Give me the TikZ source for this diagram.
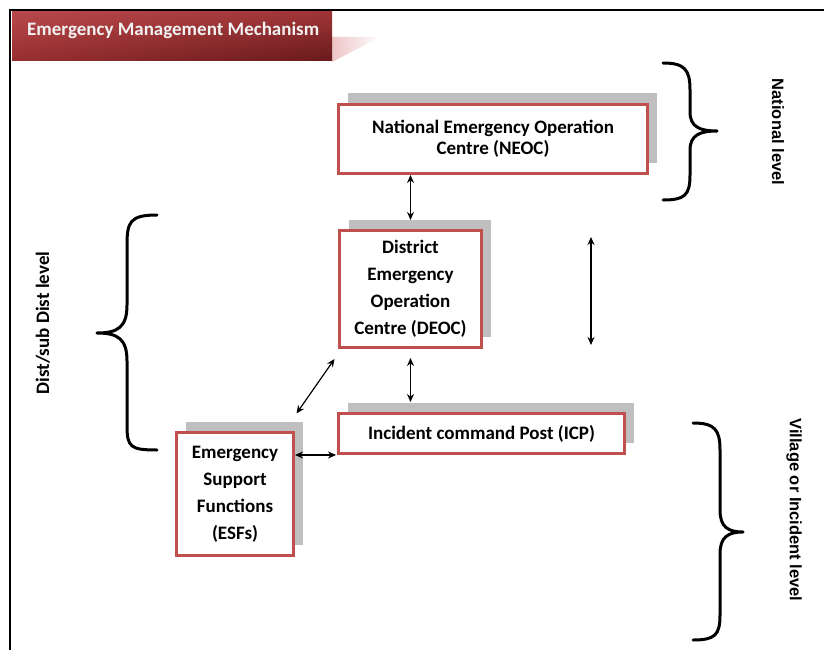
\documentclass[tikz,border=0pt]{standalone}
\usepackage{fontspec}
\setmainfont{Carlito}
\newfontfamily\arialfont{Liberation Sans}
\usetikzlibrary{arrows.meta,shadows,calc,shadings}
\definecolor{boxred}{RGB}{192,80,77}
\definecolor{shadowgray}{RGB}{191,191,191}
\definecolor{bannerUL}{RGB}{184,72,74}
\definecolor{bannerUR}{RGB}{158,52,54}
\definecolor{bannerLL}{RGB}{150,46,48}
\definecolor{bannerLR}{RGB}{104,26,28}
\definecolor{titlewhite}{RGB}{242,242,242}
\definecolor{pinkfade}{RGB}{236,196,198}
\begin{document}
\begin{tikzpicture}[x=1pt,y=-1pt,
  box/.style={draw=boxred, line width=3pt, fill=white, align=center, inner sep=0pt,
    font=\bfseries\fontsize{19}{21}\selectfont,
    drop shadow={shadow xshift=9pt, shadow yshift=11pt, fill=shadowgray, opacity=1}},
  tallbox/.style={box, font=\bfseries\fontsize{19}{27}\selectfont},
  biarrow/.style={{Stealth[length=8pt,width=7pt]}-{Stealth[length=8pt,width=7pt]}, line width=1.2pt},
  brace/.style={line width=3pt, line cap=round, line join=round},
  sidelabel/.style={font=\arialfont\bfseries\fontsize{16.5}{18}\selectfont},
]
\useasboundingbox (0,0) rectangle (824,650);
% frame
\draw[line width=2.2pt] (824,10) -- (10,10) -- (10,650);
% title banner
\shade[left color=pinkfade, right color=white] (332,37) -- (380,37) -- (332,62) -- cycle;
\shade[upper left=bannerUL, upper right=bannerUR, lower left=bannerLL, lower right=bannerLR]
  (12,12) rectangle (332,61);
\node[anchor=west, text=titlewhite, font=\bfseries\fontsize{19}{21}\selectfont, inner sep=0pt] (title) at (27,30) {Emergency Management Mechanism};
% boxes
\node[box, minimum width=309, minimum height=69] (neoc) at (493,139) {National Emergency Operation\\Centre (NEOC)};
\node[tallbox, minimum width=142, minimum height=117] (deoc) at (410.5,289) {District\\Emergency\\Operation\\Centre (DEOC)};
\node[box, minimum width=286, minimum height=40] (icp) at (481.5,433.5) {Incident command Post (ICP)};
\node[tallbox, minimum width=117, minimum height=123] (esf) at (235,494) {Emergency\\Support\\Functions\\(ESFs)};
% connectors
\draw[biarrow, shorten >=9pt] (neoc.south -| deoc.north) -- (deoc.north);
\draw[biarrow, shorten <=9pt, shorten >=10pt] (deoc.south) -- (icp.north -| deoc.south);
\draw[biarrow] ($(deoc.south west)+(-3.5,10)$) -- ($(esf.north east)+(1.5,-17.5)$);
\draw[biarrow, shorten >=1pt] (esf.east |- icp.south west) -- (icp.south west);
\coordinate (fa) at (591,237);
\coordinate (fb) at (591,345);
\draw[biarrow] (fa) -- (fb);
% braces
\draw[brace] (663,63) .. controls (685,63) and (690,70) .. (690,90) -- (690,112)
  .. controls (690,127) and (700,131) .. (717,131)
  .. controls (700,131) and (690,135) .. (690,150) -- (690,175)
  .. controls (690,195) and (685,200) .. (663,200);
\draw[brace] (157,215) .. controls (130,215) and (127,222) .. (127,245) -- (127,305)
  .. controls (127,327) and (118,333) .. (97,333)
  .. controls (118,333) and (127,339) .. (127,361) -- (127,425)
  .. controls (127,447) and (130,450) .. (157,450);
\draw[brace] (693,423) .. controls (715,423) and (720,430) .. (720,450) -- (720,510)
  .. controls (720,527) and (728,532) .. (743,532)
  .. controls (728,532) and (720,537) .. (720,554) -- (720,615)
  .. controls (720,635) and (715,640) .. (693,640);
% side labels
\node[sidelabel, rotate=-90] (natl) at (778,132) {National level};
\node[sidelabel, rotate=-90] (vill) at (794,510) {Village or Incident level};
\node[rotate=90, font=\bfseries\fontsize{19}{21}\selectfont] (dist) at (43,323) {Dist/sub Dist level};
\end{tikzpicture}
\end{document}
